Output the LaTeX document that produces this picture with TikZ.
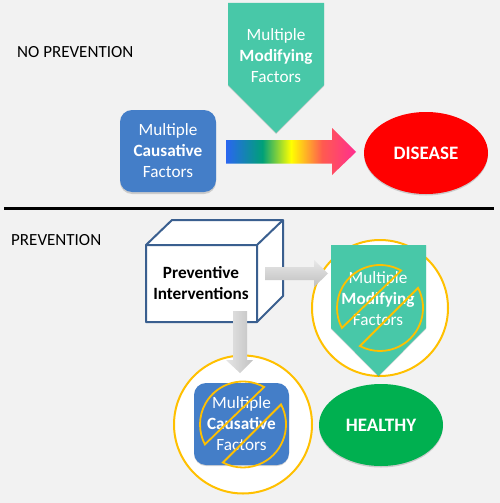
\documentclass[tikz,border=0pt]{standalone}
\usepackage{fontspec}
\setmainfont{Carlito}
\usetikzlibrary{calc,shapes.geometric}
\definecolor{rb1}{HTML}{2A66F0}
\definecolor{rb2}{HTML}{00A078}
\definecolor{rb3}{HTML}{FFFF00}
\definecolor{rb4}{HTML}{FF5A50}
\definecolor{rb5}{HTML}{FF2E90}
\definecolor{bgc}{HTML}{F2F2F2}
\definecolor{bluebox}{HTML}{447EC8}
\definecolor{tealbox}{HTML}{48C8A8}
\definecolor{gold}{HTML}{FFC000}
\definecolor{cubeline}{HTML}{3A5F8F}
\definecolor{healthy}{HTML}{00B050}
\pgfdeclarehorizontalshading{rainbowbar}{100bp}{
 color(0bp)=(rb1); color(25bp)=(rb1); color(39bp)=(rb2); color(50bp)=(rb3); color(62bp)=(rb4); color(75bp)=(rb5); color(100bp)=(rb5)}
\tikzset{
 x=1pt,y=-1pt,
 txt/.style={font=\fontsize{17.2}{21}\selectfont,align=center,text=white,inner sep=0pt},
 plain/.style={font=\fontsize{17}{20}\selectfont,text=black,anchor=west,inner sep=0pt},
 bigtxt/.style={font=\fontsize{19}{21}\selectfont\bfseries,text=white,inner sep=0pt},
 dark/.style={font=\fontsize{17.2}{21}\selectfont\bfseries,align=center,text=black,inner sep=0pt},
 shadowcol/.style={fill=black,opacity=0.16},
 roundbox/.style={fill=bluebox,rounded corners=12pt},
 ring/.style={circle,draw=gold,line width=2pt,fill=white,minimum size=#1,inner sep=0pt},
 nosign/.style={draw=gold,line width=1.8pt},
 grayh/.style={top color=gray!18!white,bottom color=gray!50!white},
 grayv/.style={left color=gray!20!white,right color=gray!48!white},
}
\newcommand{\pentagon}[4]{(#1,#3) -- (#2,#3) -- (#2,#4) -- ({(#1+#2)/2},#4+48) -- (#1,#4) -- cycle}
\newcommand{\nosignat}[2]{%
 \draw[nosign] ($(#1,#2)+(-60.6:43)$) arc[start angle=-60.6,end angle=-207.6,radius=43] -- cycle;
 \draw[nosign] ($(#1,#2)+(-27.8:43)$) arc[start angle=-27.8,end angle=117.8,radius=43] -- cycle;}
\begin{document}
\begin{tikzpicture}
\useasboundingbox (0,0) rectangle (500,503);
\fill[bgc] (0,0) rectangle (500,503);
\node[plain] (noprev) at (17,52) {NO PREVENTION};
\node[plain] (prev) at (11,240) {PREVENTION};
\draw[black,line width=3pt] (4,208.5) -- (494,208.5);

% top row
\fill[shadowcol] \pentagon{228}{324}{4}{86};
\fill[tealbox] \pentagon{228}{324}{3}{85};
\node[txt] (mod) at (276,56) {Multiple\\\textbf{Modifying}\\Factors};
\fill[shadowcol,rounded corners=12pt] (120,112) rectangle (216,194);
\node[roundbox,minimum width=96pt,minimum height=82pt,inner sep=0pt,txt] (caus) at (168,151) {Multiple\\\textbf{Causative}\\Factors};
\path[shading=rainbowbar] (226,140) -- (332,140) -- (332,128) -- (356,152) -- (332,175) -- (332,163.5) -- (226,163.5) -- cycle;
\fill[shadowcol] (426,154.5) ellipse[x radius=62,y radius=41];
\node[ellipse,fill=red,minimum width=124pt,minimum height=82pt,inner sep=0pt,bigtxt] (disease) at (426,153) {DISEASE};

% cube
\draw[cubeline,line width=2pt,fill=white,line join=round] (146,245) -- (172,220) -- (283,220) -- (283,296) -- (257,322) -- (146,322) -- cycle;
\draw[cubeline,line width=2pt,line join=round] (146,245) -- (257,245) -- (283,220) (257,245) -- (257,322);
\node[dark] (prevint) at (201,283.5) {Preventive\\Interventions};

% right group
\node[ring=136pt] (ringA) at (380,308) {};
\fill[shadowcol] \pentagon{331}{426}{246}{329};
\fill[tealbox] \pentagon{331}{426}{245}{328};
\node[txt] (modB) at (378,299) {Multiple\\\textbf{Modifying}\\Factors};
\nosignat{380}{308}

% lower group
\node[ring=138pt] (ringB) at (243,424.5) {};
\fill[shadowcol,rounded corners=12pt] (194,385) rectangle (289,466);
\node[roundbox,minimum width=95pt,minimum height=82pt,inner sep=0pt,txt] (causB) at (241.5,424) {Multiple\\\textbf{Causative}\\Factors};
\nosignat{243}{424.5}

% gray arrows
\path[grayh] (265,267) -- (314,267) -- (314,260) -- (328,273.5) -- (314,287) -- (314,280) -- (265,280) -- cycle;
\path[grayv] (233,311) -- (247,311) -- (247,360) -- (253,360) -- (240,373) -- (226,360) -- (233,360) -- cycle;

% healthy
\fill[shadowcol] (381,426.5) ellipse[x radius=62,y radius=41];
\node[ellipse,fill=healthy,minimum width=124pt,minimum height=82pt,inner sep=0pt,bigtxt] (healthy) at (381,425) {HEALTHY};
\end{tikzpicture}
\end{document}
